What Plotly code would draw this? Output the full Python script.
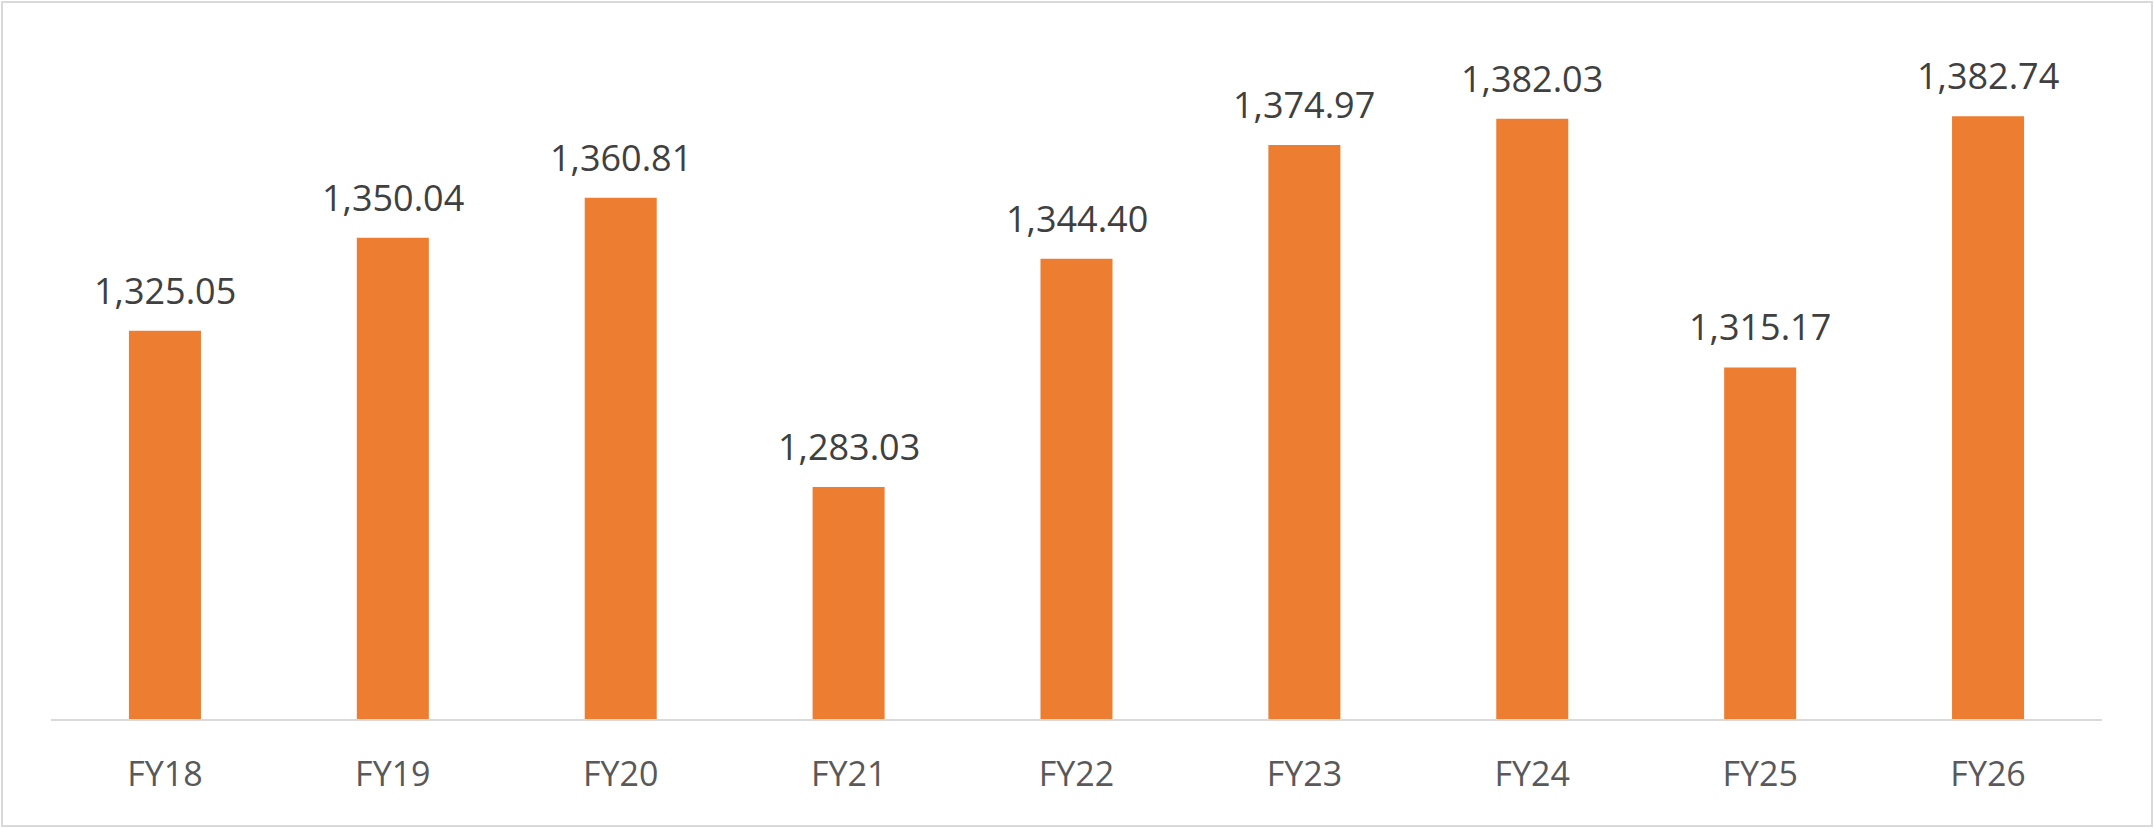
import plotly.graph_objects as go

categories = ["FY18", "FY19", "FY20", "FY21", "FY22", "FY23", "FY24", "FY25", "FY26"]
values = [1325.05, 1350.04, 1360.81, 1283.03, 1344.40, 1374.97, 1382.03, 1315.17, 1382.74]
labels = [f"{v:,.2f}" for v in values]

W, H = 2154, 828
ml, mr, mt, mb = 51, 52, 52, 109
pw = W - ml - mr
ph = H - mt - mb

fig = go.Figure()
fig.add_trace(go.Bar(
    x=categories, y=values,
    marker=dict(color="#ED7D31", line=dict(width=0)),
    hoverinfo="skip",
))

for c, v, t in zip(categories, values, labels):
    fig.add_annotation(
        x=c, y=v, text=t, showarrow=False,
        xanchor="center", yanchor="bottom", yshift=14,
        font=dict(family="Open Sans", size=36, color="#404040"),
    )

def px2x(px):
    return (px - ml) / pw

def py2y(py):
    return (H - mb - py) / ph

fig.add_shape(
    type="rect", xref="paper", yref="paper",
    x0=px2x(2), x1=px2x(2152), y0=py2y(826), y1=py2y(2),
    line=dict(color="#d9d9d9", width=2), fillcolor="rgba(0,0,0,0)", layer="below",
)

fig.update_layout(
    width=W, height=H,
    margin=dict(l=ml, r=mr, t=mt, b=mb, pad=0),
    paper_bgcolor="white", plot_bgcolor="white",
    bargap=0.684,
    showlegend=False,
    xaxis=dict(
        showline=True, linecolor="#d9d9d9", linewidth=2,
        showgrid=False, zeroline=False,
        ticks="outside", ticklen=24, tickcolor="rgba(0,0,0,0)",
        tickfont=dict(family="Open Sans", size=34, color="#595959"),
        fixedrange=True,
    ),
    yaxis=dict(
        range=[1220.6, 1400], visible=False, showgrid=False, zeroline=False,
        fixedrange=True,
    ),
)

fig.write_html(
    "out.html",
    config={"displayModeBar": False},
    post_script="document.body.style.margin='0';document.body.style.overflow='hidden';",
)
